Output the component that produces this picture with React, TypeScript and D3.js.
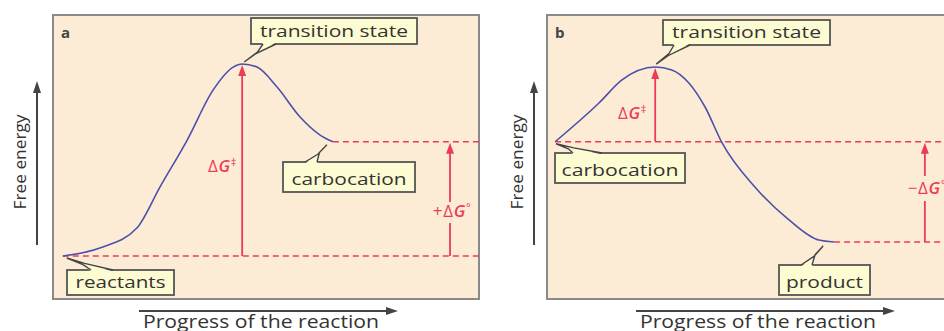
import React from 'react';
import * as d3 from 'd3';

// panel a: reactants -> carbocation (progress 0-100, free energy 0-100)
const progressA = [2.3, 11, 19.7, 25.1, 31.5, 37.6, 42.3, 44.4, 47.9, 52.6, 58, 62.7, 65.7];
const energyA = [0, 4.2, 14.6, 35.9, 60.4, 86.5, 98.4, 100, 98.4, 88, 72.4, 63, 59.5];
// panel b: carbocation -> product
const progressB = [1.9, 12.2, 17.6, 25.4, 29.3, 33.3, 37.1, 41.1, 48.8, 56.8, 63.8, 67.4];
const energyB = [59.5, 79.7, 91.7, 98.4, 96.9, 90.1, 77.6, 58.9, 35.9, 18.8, 8.3, 7.3];

const panelLetters = ['a', 'b'];
const levelsA = { start: 0, ts: 100, end: 59.5 };
const levelsB = { start: 59.5, ts: 98.4, end: 7.3 };
const arrowXA = [44.4, 93.2]; // ΔG‡, +ΔG°
const arrowXB = [25.4, 88.7]; // ΔG‡, −ΔG°
const calloutsA = ['transition state', 'carbocation', 'reactants'];
const calloutsB = ['transition state', 'carbocation', 'product'];
const dgSigns = ['+', '\u2212'];

const RED = '#ec3b58';
const BLUE = '#4d50aa';
const PANEL_BG = '#fdecd5';
const BOX_BG = '#fdfbd1';
const FONT = '"Open Sans", "Noto Sans", sans-serif';

const W = 944;
const H = 331;
const panelTop = 15;
const panelBottom = 299;
const panelW = 426;

const y = d3.scaleLinear().domain([0, 100]).range([256, 64]);

function Callout({ text, box, tip, edge, len }) {
  const [bx, by, bw, bh] = box;
  const [e1, e2, ey] = edge;
  const T = tip;
  const k1 = [T[0] + (e1 - T[0]) * 0.55 + 3, T[1] + (ey - T[1]) * 0.55];
  const k2 = [T[0] + (e2 - T[0]) * 0.45 - 3, T[1] + (ey - T[1]) * 0.45];
  const inset = ey > T[1] ? 1.5 : -1.5;
  const poly = [T, k1, [e1, ey + inset], [e2, ey + inset], k2];
  return (
    <g>
      <rect x={bx} y={by} width={bw} height={bh} fill={BOX_BG} stroke="#555" strokeWidth={1.8} />
      <path d={d3.line()(poly) + 'Z'} fill={BOX_BG} stroke="none" />
      <path d={d3.line()([[e1, ey], k1, T, k2, [e2, ey]])} fill="none" stroke="#444" strokeWidth={1.4} strokeLinejoin="miter" />
      <text x={bx + bw / 2} y={by + bh - 7} textAnchor="middle" fontSize={17} fill="#333" fontFamily={FONT}
        textLength={len} lengthAdjust="spacingAndGlyphs">{text}</text>
    </g>
  );
}

function DG({ x, yb, prefix, sup, anchor }) {
  return (
    <text x={x} y={yb} textAnchor={anchor || 'middle'} fill={RED} fontSize={17} fontFamily={FONT} letterSpacing={0.6}>
      {prefix}{'\u0394'}<tspan fontStyle="italic" fontWeight="600">G</tspan>
      <tspan fontSize={11} dy={-6}>{sup}</tspan>
    </text>
  );
}

function UpArrow({ x, y0, y1, gap }) {
  const head = `M${x},${y1} L${x - 4},${y1 + 11} L${x + 4},${y1 + 11} Z`;
  return (
    <g>
      {gap ? (
        <>
          <line x1={x} x2={x} y1={y0} y2={gap[1]} stroke={RED} strokeWidth={1.8} />
          <line x1={x} x2={x} y1={gap[0]} y2={y1 + 8} stroke={RED} strokeWidth={1.8} />
        </>
      ) : (
        <line x1={x} x2={x} y1={y0} y2={y1 + 8} stroke={RED} strokeWidth={1.8} />
      )}
      <path d={head} fill={RED} />
    </g>
  );
}

function Axes({ left }) {
  const ax = left - 16;
  return (
    <g fill="#444" stroke="#444">
      <line x1={ax} x2={ax} y1={245} y2={90} strokeWidth={2} />
      <path d={`M${ax},${81} L${ax - 4},${93} L${ax + 4},${93} Z`} stroke="none" />
      <text transform={`translate(${ax - 11},162) rotate(-90)`} textAnchor="middle" fontSize={17} stroke="none" fill="#333" fontFamily={FONT}
        textLength={95} lengthAdjust="spacingAndGlyphs">Free energy</text>
      <line x1={left + 86} x2={left + 336} y1={311} y2={311} strokeWidth={2} />
      <path d={`M${left + 345},311 L${left + 333},307 L${left + 333},315 Z`} stroke="none" />
      <text x={left + 208} y={328} textAnchor="middle" fontSize={17.5} stroke="none" fill="#333" fontFamily={FONT}
        textLength={236} lengthAdjust="spacingAndGlyphs">Progress of the reaction</text>
    </g>
  );
}

function Panel({ left, letter, progress, energy, levels, arrowX, callouts, boxes, edges, lens, tipOffsets, dgLabels }) {
  const x = d3.scaleLinear().domain([0, 100]).range([left, left + panelW]);
  const pts = progress.map((p, i) => [x(p), y(energy[i])]);
  const curve = d3.line().curve(d3.curveMonotoneX)(pts);
  const first = pts[0];
  const last = pts[pts.length - 1];
  const peakIdx = energy.indexOf(d3.max(energy));
  const peak = pts[peakIdx];
  const tips = [peak, first, last];
  const clipId = `clip-${letter}`;
  const dash = { stroke: RED, strokeWidth: 1.6, strokeDasharray: '6 4', fill: 'none' };
  return (
    <g>
      <defs>
        <clipPath id={clipId}>
          <rect x={left} y={panelTop} width={panelW} height={panelBottom - panelTop} />
        </clipPath>
      </defs>
      <rect x={left} y={panelTop} width={panelW} height={panelBottom - panelTop} fill={PANEL_BG} stroke="#8a8a8a" strokeWidth={2} />
      <text x={left + 8} y={38} fontSize={15} fontWeight="bold" fill="#444" fontFamily={FONT}>{letter}</text>
      <g clipPath={`url(#${clipId})`}>
        <line x1={x(progress[0])} x2={x(100)} y1={y(levels.start)} y2={y(levels.start)} {...dash} />
        <line x1={last[0]} x2={x(100)} y1={y(levels.end)} y2={y(levels.end)} {...dash} />
        <UpArrow x={x(arrowX[0])} y0={y(levels.start)} y1={y(levels.ts) + 1} />
        <UpArrow x={x(arrowX[1])} y0={y(d3.min([levels.start, levels.end]))} y1={y(d3.max([levels.start, levels.end])) + 1} gap={dgLabels[1].gap} />
        <path d={curve} fill="none" stroke={BLUE} strokeWidth={1.6} />
        <DG x={dgLabels[0].x} yb={dgLabels[0].y} prefix="" sup={'\u2021'} anchor="end" />
        <DG x={x(arrowX[1]) + 2} yb={dgLabels[1].y} prefix={dgLabels[1].prefix} sup={'\u00b0'} />
      </g>
      {callouts.map((c, i) => (
        <Callout key={c} text={c} box={boxes[i]} len={lens[i]}
          tip={[tips[tipOffsets[i][0]][0] + tipOffsets[i][1], tips[tipOffsets[i][0]][1] + tipOffsets[i][2]]}
          edge={edges[i]} />
      ))}
    </g>
  );
}

export default function App() {
  return (
    <div style={{ position: 'absolute', left: 0, top: 0 }}>
      <svg width={W} height={H} style={{ display: 'block', background: '#fff' }}>
        <Axes left={53} />
        <Axes left={550} />
        <Panel left={53} letter={panelLetters[0]} progress={progressA} energy={energyA}
          levels={levelsA} arrowX={arrowXA} callouts={calloutsA}
          boxes={[[251, 18, 166, 26], [283, 162, 132, 30], [67, 270, 107, 25]]}
          lens={[148, 115, 90]}
          edges={[[263, 276, 44], [305, 317, 162], [91, 113, 270]]}
          tipOffsets={[[0, 2, -2], [2, -6, 3], [1, 4, 2]]}
          dgLabels={[{ x: 237, y: 172 }, { y: 217, prefix: dgSigns[0], gap: [202, 223] }]} />
        <Panel left={547} letter={panelLetters[1]} progress={progressB} energy={energyB}
          levels={levelsB} arrowX={arrowXB} callouts={calloutsB}
          boxes={[[663, 20, 167, 25], [555, 153, 130, 30], [779, 265, 91, 30]]}
          lens={[149, 117, 77]}
          edges={[[674, 690, 45], [573, 602, 153], [801, 812, 265]]}
          tipOffsets={[[0, 1, -3], [1, 1, 2], [2, -11, 4]]}
          dgLabels={[{ x: 647, y: 119 }, { y: 194, prefix: dgSigns[1], gap: [176, 201] }]} />
      </svg>
    </div>
  );
}
